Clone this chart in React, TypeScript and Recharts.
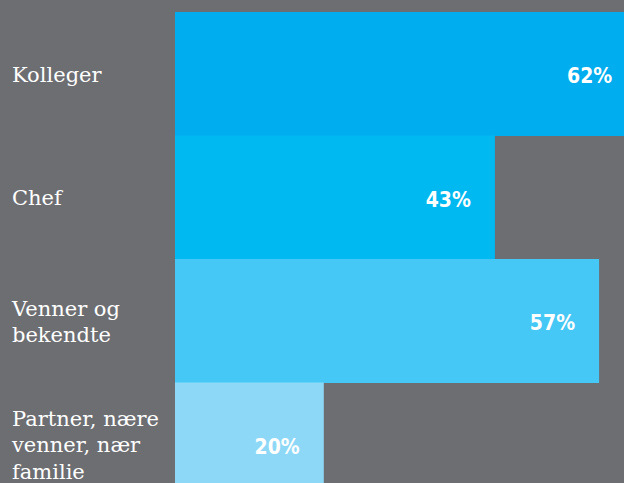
import React from "react";
import { BarChart, Bar, XAxis, YAxis, Cell, LabelList } from "recharts";

const categories = ["Kolleger", "Chef", "Venner og\nbekendte", "Partner, nære\nvenner, nær\nfamilie"];
const values = [62, 43, 57, 20];
const barColors = ["#00adee", "#00b9f1", "#45c8f5", "#8dd8f7"];

const data = categories.map((c, i) => ({ name: c, value: values[i] }));

const BG = "#6d6e72";

const Tick = (props: any) => {
  const { y, payload } = props;
  const lines = String(payload.value).split("\n");
  const lh = 26.5;
  const start = y + 8 - ((lines.length - 1) * lh) / 2;
  return (
    <text
      x={12}
      y={start}
      fill="#ffffff"
      fontFamily="'DejaVu Serif', 'Liberation Serif', serif"
      fontSize={21}
      textAnchor="start"
    >
      {lines.map((l, i) => (
        <tspan key={i} x={12} y={start + i * lh}>
          {l}
        </tspan>
      ))}
    </text>
  );
};

const ValueLabel = (props: any) => {
  const { x, y, width, height, value } = props;
  return (
    <text
      x={x + width - 24}
      y={y + height / 2 + 2}
      fill="#ffffff"
      textAnchor="end"
      dominantBaseline="central"
      fontFamily="'DejaVu Sans Condensed', 'DejaVu Sans', Roboto, sans-serif"
      fontWeight="bold"
      fontSize={21}
    >
      {`${value}%`}
    </text>
  );
};

export default function App() {
  return (
    <div
      style={{
        position: "absolute",
        left: 0,
        top: 0,
        width: 624,
        height: 483,
        overflow: "hidden",
        background: BG,
      }}
    >
      <BarChart
        width={919}
        height={506}
        data={data}
        layout="vertical"
        margin={{ top: 12, right: 0, bottom: 0, left: 0 }}
        barCategoryGap={0}
      >
        <XAxis type="number" domain={[0, 100]} hide />
        <YAxis
          type="category"
          dataKey="name"
          width={175}
          axisLine={false}
          tickLine={false}
          tick={<Tick />}
          interval={0}
        />
        <Bar dataKey="value" isAnimationActive={false}>
          {data.map((d, i) => (
            <Cell key={i} fill={barColors[i]} />
          ))}
          <LabelList dataKey="value" content={<ValueLabel />} />
        </Bar>
      </BarChart>
    </div>
  );
}
